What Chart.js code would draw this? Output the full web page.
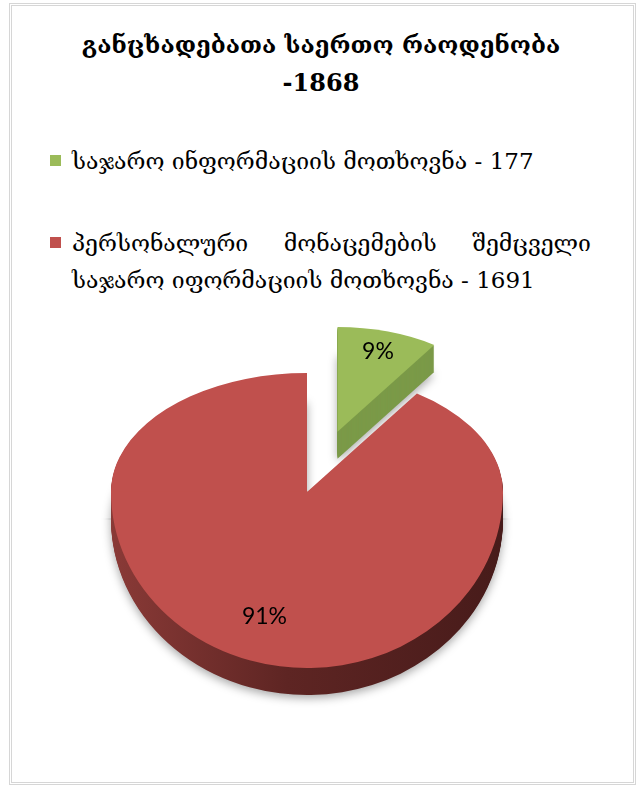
<!DOCTYPE html>
<html>
<head>
<meta charset="utf-8">
<script src="https://cdn.jsdelivr.net/npm/chart.js@4.4.0/dist/chart.umd.min.js"></script>
<style>
    html, body { margin: 0; padding: 0; background: #fff; }
    body { width: 642px; height: 785px; position: relative; overflow: hidden; font-family: "DejaVu Serif", "DejaVu Sans", serif; color: #000; }
    .frame { position: absolute; left: 9px; top: 3px; width: 621px; height: 776px; border: 3px double #d6d6d6; }
    #title { position: absolute; left: 0; top: 26px; width: 642px; text-align: center; font-weight: bold; font-size: 24px; line-height: 38px; }
    #legend { position: absolute; left: 50px; top: 143px; width: 541px; font-size: 23px; }
    .item { display: flex; align-items: flex-start; }
    .swatch { width: 11px; height: 11px; margin: 12px 11px 0 0; flex: none; }
    .text { flex: 1; line-height: 37px; text-align: justify; }
    #pie { position: absolute; left: 0; top: 238px; }
</style>
</head>
<body>
<div class="frame"></div>
<div id="title"></div>
<div id="legend"></div>
<canvas id="pie" width="642" height="560"></canvas>

<script>
/* --- Data --- */
const titleText = 'განცხადებათა საერთო რაოდენობა';
const categories = [
    'საჯარო ინფორმაციის მოთხოვნა',
    'პერსონალური მონაცემების შემცველი საჯარო იფორმაციის მოთხოვნა'
];
const counts = [177, 1691];
const topColors = ['#9bbb59', '#c0504d'];

const total = counts.reduce((s, v) => s + v, 0);
const percents = counts.map(v => Math.round(v / total * 100) + '%');

/* --- Title & legend --- */
document.getElementById('title').innerHTML = titleText + '<br>-' + total;

const legend = document.getElementById('legend');
categories.forEach((name, i) => {
    const item = document.createElement('div');
    item.className = 'item';
    item.style.marginBottom = i === 0 ? '45px' : '0';
    item.innerHTML = `<div class="swatch" style="background:${topColors[i]}"></div><div class="text">${name} - ${counts[i]}</div>`;
    legend.appendChild(item);
});

/* --- 3D look: squashed pie (back half flatter than front), extruded downwards --- */
const pie3d = {
    id: 'pie3d',
    beforeDatasetsDraw(chart, args, opts) {
        const ctx = chart.ctx;
        const arcs = chart.getDatasetMeta(0).data;
        const cx = arcs[0].x, cy = arcs[0].y, r = arcs[0].outerRadius;
        const W = chart.width, H = chart.height;

        const redSide = ctx.createLinearGradient(cx - r, 0, cx + r, 0);
        redSide.addColorStop(0, '#8a3a37');
        redSide.addColorStop(0.45, '#5e2523');
        redSide.addColorStop(1, '#471b1a');
        const sides = ['#7b9a48', redSide];

        const drawArc = (arc, i, fillStyle) => {
            const e = opts.explode[i] || 0;
            const mid = (arc.startAngle + arc.endAngle) / 2;
            ctx.save();
            if (e) {
                const s = opts.farScale;
                ctx.translate(arc.x + Math.cos(mid) * e, arc.y + Math.sin(mid) * e);
                ctx.scale(s, s);
                ctx.translate(-arc.x, -arc.y);
            }
            if (fillStyle) {
                const fill = CanvasRenderingContext2D.prototype.fill;
                ctx.fill = function () { this.fillStyle = fillStyle; fill.apply(this, arguments); };
            }
            arc.draw(ctx);
            delete ctx.fill;
            ctx.restore();
        };

        const drawLayer = (d) => {
            [true, false].forEach(upper => {
                ctx.save();
                ctx.translate(0, d);
                ctx.beginPath();
                if (upper) ctx.rect(0, 0, W, cy + 0.5);
                else ctx.rect(0, cy - 0.5, W, H);
                ctx.clip();
                ctx.translate(cx, cy);
                ctx.scale(1, upper ? opts.backTilt : opts.frontTilt);
                ctx.translate(-cx, -cy);
                if (d === opts.depth) {
                    ctx.shadowColor = 'rgba(0,0,0,0.35)';
                    ctx.shadowBlur = 10;
                    ctx.shadowOffsetY = 3;
                }
                arcs.forEach((arc, i) => drawArc(arc, i, d > 0 ? sides[i] : null));
                ctx.restore();
            });
        };

        for (let d = opts.depth; d >= 0; d--) drawLayer(d);
        return false;
    },
    afterDraw(chart, args, opts) {
        const ctx = chart.ctx;
        const arcs = chart.getDatasetMeta(0).data;
        ctx.save();
        ctx.font = '23px Lato, "Open Sans", sans-serif';
        ctx.fillStyle = '#000';
        ctx.textAlign = 'center';
        ctx.textBaseline = 'middle';
        arcs.forEach((arc, i) => {
            const mid = (arc.startAngle + arc.endAngle) / 2;
            const e = opts.explode[i] || 0;
            const s = e ? opts.farScale : 1;
            const rr = arc.outerRadius * s * opts.labelAt[i];
            const ux = Math.cos(mid) * (e + rr);
            const uy = Math.sin(mid) * (e + rr);
            const k = uy < 0 ? opts.backTilt : opts.frontTilt;
            ctx.fillText(percents[i], arc.x + ux, arc.y + uy * k);
        });
        ctx.restore();
    }
};

/* --- Chart.js Setup --- */
new Chart(document.getElementById('pie'), {
    type: 'pie',
    data: {
        labels: categories,
        datasets: [{
            data: counts,
            backgroundColor: topColors,
            borderWidth: 0
        }]
    },
    options: {
        responsive: false,
        animation: false,
        radius: 196,
        layout: { padding: { left: 0, right: 28, top: 0, bottom: 52 } },
        plugins: {
            legend: { display: false },
            tooltip: { enabled: false },
            pie3d: {
                depth: 27,
                backTilt: 0.607,
                frontTilt: 0.898,
                explode: [104, 0],
                farScale: 0.88,
                labelAt: [0.8, 0.74]
            }
        }
    },
    plugins: [pie3d]
});
</script>
</body>
</html>
